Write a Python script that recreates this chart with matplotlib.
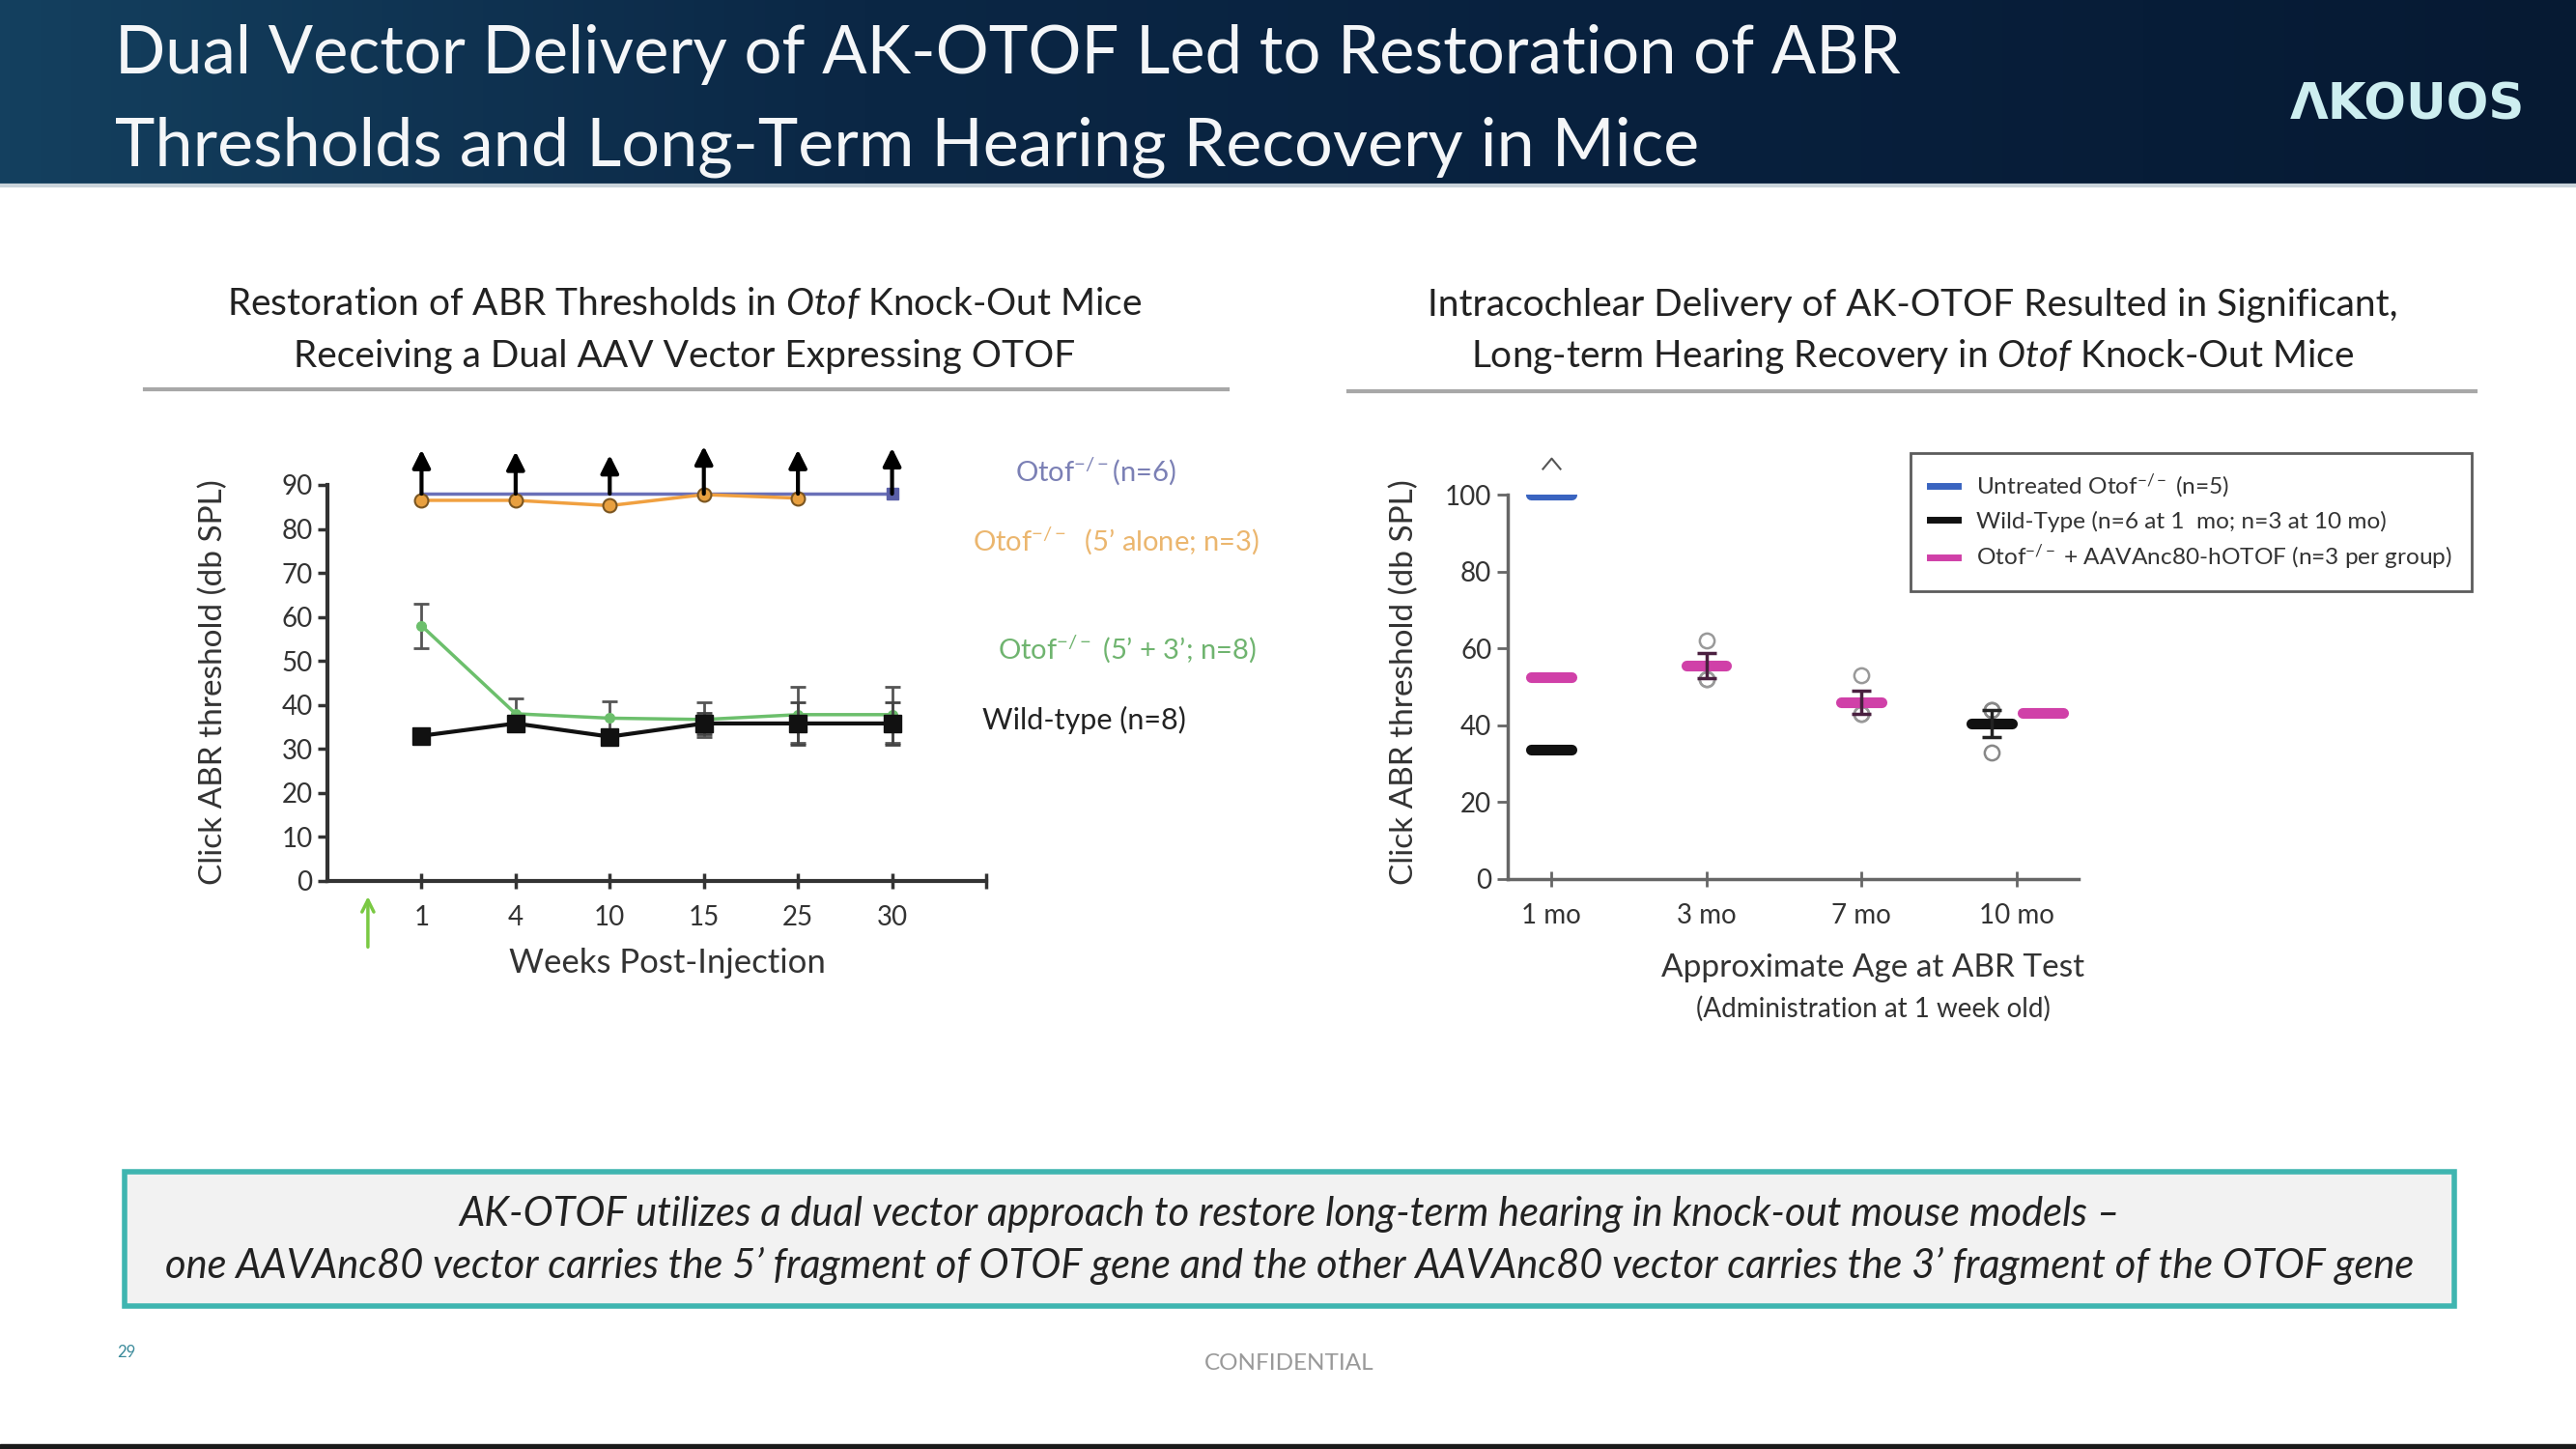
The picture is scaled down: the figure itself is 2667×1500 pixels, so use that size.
import numpy as np
import matplotlib.pyplot as plt
from matplotlib.colors import LinearSegmentedColormap
from matplotlib.lines import Line2D
from matplotlib.patches import Rectangle
from matplotlib.path import Path

plt.rcParams['font.family'] = ['Lato', 'DejaVu Sans']
plt.rcParams['mathtext.fontset'] = 'custom'
plt.rcParams['mathtext.rm'] = 'Lato'
plt.rcParams['mathtext.it'] = 'Lato:italic'
plt.rcParams['mathtext.default'] = 'regular'

# ---- left chart: ABR thresholds over weeks post-injection
weeks = ['1', '4', '10', '15', '25', '30']
otof_ko = [88, 88, 88, 88, 88, 88]
otof_ko_arrow_top = [98, 97.6, 96.8, 98.8, 98, 98.4]
otof_5only = [86.5, 86.5, 85.3, 87.8, 87.0]
otof_dual = [58, 38, 37, 36.7, 37.8, 37.8]
otof_dual_err = [5, 3.5, 3.8, 4, 6.3, 6.3]
wild_type = [33, 35.8, 32.8, 35.8, 35.8, 35.8]
wild_type_err = [1.3, 1.5, 1.0, 2.5, 4.8, 4.8]

# ---- right chart: ABR thresholds by age
ages = ['1 mo', '3 mo', '7 mo', '10 mo']
untreated_age = ['1 mo']
untreated_mean = [100]
wt_age = ['1 mo', '10 mo']
wt_mean = [33.6, 40.5]
wt_err = [0, 3.5]
wt_dots_10mo = [44, 44, 33]
treated_age = ['1 mo', '3 mo', '7 mo', '10 mo']
treated_mean = [52.5, 55.5, 46, 43.2]
treated_err = [0, 3.2, 3.0, 0]
treated_dots = {'3 mo': [62, 52, 52], '7 mo': [53, 43, 43]}

W, H = 2667, 1500
fig = plt.figure(figsize=(W / 100, H / 100), dpi=100)
fig.patch.set_facecolor('white')


def fx(x):
    return x / W


def fy(y):
    return 1 - y / H


# header band
hdr = fig.add_axes([0, fy(190), 1, 190 / H])
cmap = LinearSegmentedColormap.from_list('hdr', ['#14405f', '#0b2745', '#08203d', '#061a33'])
hdr.imshow(np.linspace(0, 1, 256).reshape(1, -1), aspect='auto', cmap=cmap, extent=[0, 1, 0, 1])
hdr.set_axis_off()
fig.add_artist(Line2D([0, 1], [fy(192), fy(192)], color='#c9d3da', lw=3))
fig.add_artist(Rectangle((0, 0), 1, 5 / H, color='#1a1a1a', transform=fig.transFigure))

fig.text(fx(119), fy(56), 'Dual Vector Delivery of AK-OTOF Led to Restoration of ABR',
         color='#f4f6f8', fontsize=49.5, va='center', ha='left')
fig.text(fx(119), fy(152), 'Thresholds and Long-Term Hearing Recovery in Mice',
         color='#f4f6f8', fontsize=50.5, va='center', ha='left')
fig.text(fx(2492), fy(110), 'ΛKOUOS', color='#cdeef0', fontsize=37, fontweight='bold',
         family='DejaVu Sans', ha='center', va='center')

# subtitles
fig.text(fx(709), fy(315), r'Restoration of ABR Thresholds in $\it{Otof}$ Knock-Out Mice',
         fontsize=28, ha='center', va='center', color='#222')
fig.text(fx(709), fy(369), 'Receiving a Dual AAV Vector Expressing OTOF',
         fontsize=28, ha='center', va='center', color='#222')
fig.add_artist(Line2D([fx(150), fx(1271)], [fy(403), fy(403)], color='#a8a8a8', lw=3))
fig.text(fx(1980), fy(316), 'Intracochlear Delivery of AK-OTOF Resulted in Significant,',
         fontsize=28, ha='center', va='center', color='#222')
fig.text(fx(1980), fy(369), r'Long-term Hearing Recovery in $\it{Otof}$ Knock-Out Mice',
         fontsize=28, ha='center', va='center', color='#222')
fig.add_artist(Line2D([fx(1396), fx(2563)], [fy(405), fy(405)], color='#a8a8a8', lw=3))

# ---- left chart
ax = fig.add_axes([fx(339), fy(912), fx(1021) - fx(339), (912 - 502) / H])
pos = np.arange(1, len(weeks) + 1)
ax.plot(pos, otof_ko, color='#6a70b8', lw=2.5, zorder=2)
ax.plot(pos[-1], otof_ko[-1], 's', color='#5a5fa8', ms=9, zorder=3)
ax.plot(pos[:len(otof_5only)], otof_5only, '-o', color='#f0a040', lw=2.5, ms=10,
        mfc='#e8a040', mec='#7a5520', mew=1.5, zorder=3)
for p, base, top in zip(pos, otof_ko, otof_ko_arrow_top):
    ax.annotate('', xy=(p, top), xytext=(p, base), annotation_clip=False,
                arrowprops=dict(arrowstyle='-|>', color='black', lw=3, mutation_scale=28,
                                shrinkA=0, shrinkB=0), zorder=4)
ax.errorbar(pos, otof_dual, yerr=otof_dual_err, fmt='-o', color='#6cbf6c', lw=2.5, ms=7,
            ecolor='#555', elinewidth=2, capsize=6, capthick=2, zorder=3)
ax.errorbar(pos, wild_type, yerr=wild_type_err, fmt='-s', color='#111', lw=3, ms=13,
            ecolor='#444', elinewidth=2, capsize=6, capthick=2, zorder=4)
ax.annotate('', xy=(0.43, -3.5), xytext=(0.43, -15), annotation_clip=False,
            arrowprops=dict(arrowstyle='->', color='#7ac943', lw=2.5, mutation_scale=22,
                            shrinkA=0, shrinkB=0))
ax.set_xlim(0, 7)
ax.set_ylim(0, 90)
ax.set_xticks(list(pos) + [7])
ax.set_xticklabels(weeks + [''])
ax.set_yticks(range(0, 91, 10))
for s in ['top', 'right']:
    ax.spines[s].set_visible(False)
for s in ['left', 'bottom']:
    ax.spines[s].set_color('#333')
    ax.spines[s].set_linewidth(3)
ax.tick_params(axis='x', direction='inout', length=12, width=2.5, colors='#333',
               labelsize=20, pad=12, labelcolor='#333')
ax.tick_params(axis='y', direction='out', length=7, width=2.5, colors='#333',
               labelsize=20, pad=4, labelcolor='#333')
fig.text(fx(221), fy(706), 'Click ABR threshold (db SPL)', rotation=90, fontsize=24,
         ha='center', va='center', color='#333')
fig.text(fx(691), fy(997), 'Weeks Post-Injection', fontsize=25, ha='center', va='center',
         color='#333')

fig.text(fx(1051), fy(488), r'Otof$^{-/-}$(n=6)', fontsize=21, color='#7b80b5', va='center')
fig.text(fx(1007), fy(560), r'Otof$^{-/-}$  (5’ alone; n=3)', fontsize=21, color='#ebb66e',
         va='center')
fig.text(fx(1033), fy(672), r'Otof$^{-/-}$ (5’ + 3’; n=8)', fontsize=21, color='#6fb46f',
         va='center')
fig.text(fx(1017), fy(745), 'Wild-type (n=8)', fontsize=22, color='#222', va='center')

# ---- right chart
ax2 = fig.add_axes([fx(1561), fy(910), fx(2152) - fx(1561), (910 - 512) / H])
xi = {a: i for i, a in enumerate(ages)}
half = 0.13


def mean_bar(x, y, color):
    lc = ax2.hlines(y, x - half, x + half, color=color, lw=8, zorder=3)
    lc.set_capstyle('round')


for a, m in zip(untreated_age, untreated_mean):
    mean_bar(xi[a], m, '#3a64c0')
    caret = Path([(-1, -0.6), (0, 0.6), (1, -0.6)], [Path.MOVETO, Path.LINETO, Path.LINETO])
    ax2.plot(xi[a], m + 8, marker=caret, ms=14, mfc='none', mec='#555', mew=1.5,
             clip_on=False)

for a, m, e in zip(wt_age, wt_mean, wt_err):
    x = xi[a] - (0.16 if a == '10 mo' else 0)
    if a == '10 mo':
        ax2.plot([x] * len(wt_dots_10mo), wt_dots_10mo, 'o', mfc='none', mec='#888',
                 ms=11, mew=1.8, zorder=2)
    mean_bar(x, m, '#111')
    if e:
        ax2.errorbar(x, m, yerr=e, fmt='none', ecolor='#222', elinewidth=2.5, capsize=7,
                     capthick=2.5, zorder=4)

for a, m, e in zip(treated_age, treated_mean, treated_err):
    x = xi[a] + (0.17 if a == '10 mo' else 0)
    if a in treated_dots:
        ax2.plot([x] * 3, treated_dots[a], 'o', mfc='none', mec='#999', ms=11, mew=1.8,
                 zorder=2)
    mean_bar(x, m, '#d040a8')
    if e:
        ax2.errorbar(x, m, yerr=e, fmt='none', ecolor='#4a2040', elinewidth=2.5,
                     capsize=7, capthick=2.5, zorder=4)

ax2.set_xlim(-0.28, 3.4)
ax2.set_ylim(0, 100)
ax2.set_xticks(range(len(ages)))
ax2.set_xticklabels(ages)
ax2.set_yticks(range(0, 101, 20))
for s in ['top', 'right']:
    ax2.spines[s].set_visible(False)
for s in ['left', 'bottom']:
    ax2.spines[s].set_color('#666')
    ax2.spines[s].set_linewidth(2.5)
ax2.tick_params(axis='x', direction='inout', length=12, width=2, colors='#666',
                labelsize=20, pad=12, labelcolor='#333')
ax2.tick_params(axis='y', direction='out', length=8, width=2, colors='#666',
                labelsize=20, pad=4, labelcolor='#333')
fig.text(fx(1454), fy(706), 'Click ABR threshold (db SPL)', rotation=90, fontsize=24,
         ha='center', va='center', color='#333')
fig.text(fx(1939), fy(1002), 'Approximate Age at ABR Test', fontsize=24, ha='center',
         va='center', color='#333')
fig.text(fx(1939), fy(1044), '(Administration at 1 week old)', fontsize=20, ha='center',
         va='center', color='#333')

handles = [Line2D([], [], color='#3a64c0', lw=5),
           Line2D([], [], color='#111', lw=5),
           Line2D([], [], color='#d040a8', lw=5)]
labels = [r'Untreated Otof$^{-/-}$ (n=5)',
          'Wild-Type (n=6 at 1  mo; n=3 at 10 mo)',
          r'Otof$^{-/-}$ + AAVAnc80-hOTOF (n=3 per group)']
leg = fig.legend(handles, labels, loc='upper left', bbox_to_anchor=(fx(1978), fy(469)),
                 fontsize=17.6, frameon=True, fancybox=False, handlelength=1.2,
                 borderaxespad=0, borderpad=0.8, labelspacing=0.45)
leg.get_frame().set_edgecolor('#333')
leg.get_frame().set_linewidth(2)
for t in leg.get_texts():
    t.set_color('#333')

# ---- bottom callout
fig.add_artist(Rectangle((fx(129), fy(1352)), fx(2541) - fx(129), (1352 - 1213) / H,
                         transform=fig.transFigure, facecolor='#f2f2f2', edgecolor='#3fb5b0',
                         lw=4))
fig.text(fx(1335), fy(1257),
         'AK-OTOF utilizes a dual vector approach to restore long-term hearing in knock-out mouse models –',
         fontsize=30, style='italic', ha='center', va='center', color='#222')
fig.text(fx(1335), fy(1310),
         'one AAVAnc80 vector carries the 5’ fragment of OTOF gene and the other AAVAnc80 vector carries the 3’ fragment of the OTOF gene',
         fontsize=30, style='italic', ha='center', va='center', color='#222')

fig.text(fx(131), fy(1400), '29', fontsize=12, color='#3a8a9a', ha='center', va='center')
fig.text(fx(1335), fy(1412), 'CONFIDENTIAL', fontsize=17.5, color='#999', ha='center',
         va='center')

fig.savefig('out.png', dpi=100)
